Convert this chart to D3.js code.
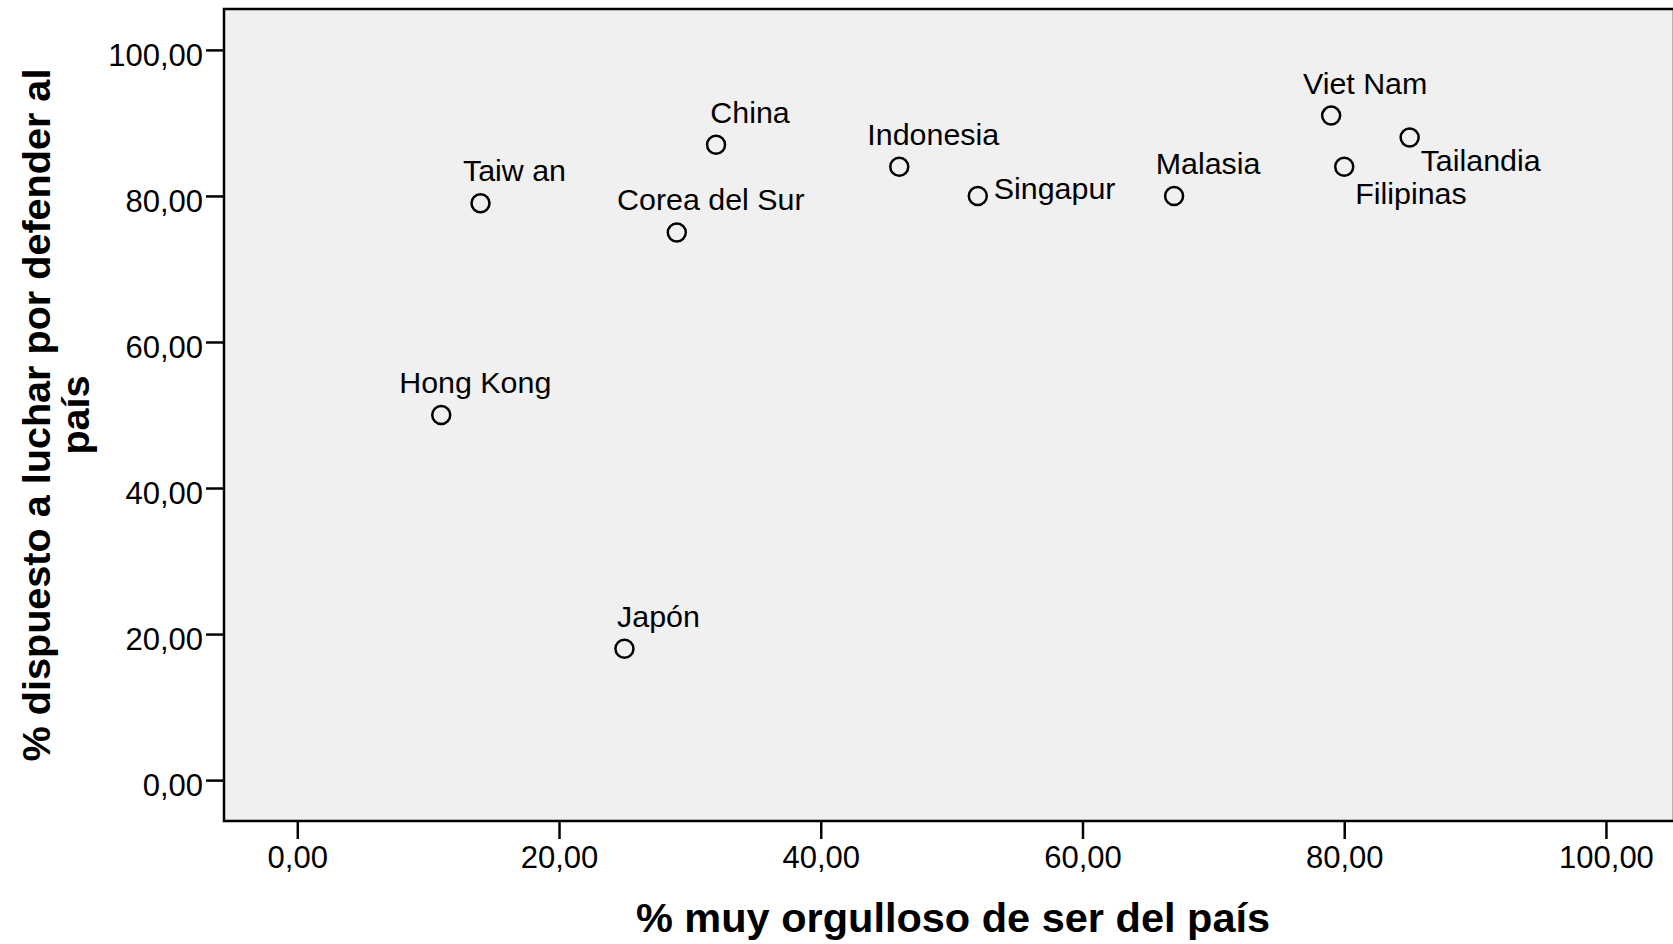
<!DOCTYPE html>
<html>
<head>
<meta charset="utf-8">
<script src="https://cdn.jsdelivr.net/npm/d3@7"></script>
<style>
  body { margin: 0; background: #fff; }
  svg { display: block; font-family: Arial, "Liberation Sans", sans-serif; }
</style>
</head>
<body>
<div id="viz"></div>
<script>
'use strict';

// countries and their two survey values
var countries = ['Hong Kong', 'Taiw an', 'Japón', 'Corea del Sur', 'China', 'Indonesia',
    'Singapur', 'Malasia', 'Viet Nam', 'Filipinas', 'Tailandia'];
var proud = [11, 14, 25, 29, 32, 46, 52, 67, 79, 80, 85];      // % muy orgulloso
var fight = [50, 79, 18, 75, 87, 84, 80, 80, 91, 84, 88];      // % dispuesto a luchar
var tickValues = [0, 20, 40, 60, 80, 100];

// where SPSS put the label next to each point
var labelSide = {
    'Singapur': 'right',
    'Filipinas': 'below',
    'Tailandia': 'below'
};

var W = 1673,
    H = 944;
var marginLeft = 224,
    marginTop = 9,
    plotW = 1450,
    plotH = 812;

var fmt = d3.formatLocale({decimal: ',', thousands: '.', grouping: [3], currency: ['', '']}).format('.2f');

var svg = d3.select('#viz').append('svg')
    .attr('width', W)
    .attr('height', H);

var x = d3.scaleLinear().domain([-5.6, 105.2]).range([0, plotW]);
var y = d3.scaleLinear().domain([-5.6, 105.6]).range([plotH, 0]);

var g = svg.append('g')
    .attr('transform', 'translate(' + marginLeft + ',' + marginTop + ')');

g.append('rect')
    .attr('width', plotW)
    .attr('height', plotH)
    .attr('fill', '#f0f0f0')
    .attr('stroke', '#000')
    .attr('stroke-width', 2.5);

var yAxis = g.append('g')
    .call(d3.axisLeft(y).tickValues(tickValues).tickFormat(fmt).tickSize(18).tickPadding(3));
var xAxis = g.append('g')
    .attr('transform', 'translate(0,' + plotH + ')')
    .call(d3.axisBottom(x).tickValues(tickValues).tickFormat(fmt).tickSize(18).tickPadding(7));

[xAxis, yAxis].forEach(function(a) {
    a.select('.domain').remove();
    a.selectAll('line').attr('stroke', '#000').attr('stroke-width', 2.5);
    a.selectAll('text')
        .attr('fill', '#000')
        .style('font-size', '31px')
        .style('font-family', 'Arial, "Liberation Sans", sans-serif');
});
yAxis.selectAll('text').attr('dy', '0.5em');

var data = countries.map(function(c, i) {
    return {name: c, x: proud[i], y: fight[i]};
});

var pt = g.append('g')
    .selectAll('g')
    .data(data)
    .enter().append('g')
    .attr('transform', d => 'translate(' + x(d.x) + ',' + y(d.y) + ')');

pt.append('circle')
    .attr('r', 9)
    .attr('fill', 'none')
    .attr('stroke', '#000')
    .attr('stroke-width', 2.5);

pt.append('text')
    .text(d => d.name)
    .style('font-size', '30.4px')
    .attr('fill', '#000')
    .attr('text-anchor', d => labelSide[d.name] ? 'start' : 'middle')
    .attr('x', function(d) {
        var s = labelSide[d.name];
        if (s === 'right') return 16;
        if (s === 'below') return 11;
        return 34;
    })
    .attr('y', function(d) {
        var s = labelSide[d.name];
        if (s === 'right') return 3;
        if (s === 'below') return d.name === 'Filipinas' ? 37 : 33;
        return -22;
    });

// axis titles
svg.append('text')
    .attr('x', 953)
    .attr('y', 932)
    .attr('text-anchor', 'middle')
    .style('font-size', '41.5px')
    .style('font-weight', 'bold')
    .text('% muy orgulloso de ser del país');

var yt = svg.append('text')
    .attr('transform', 'translate(0,' + (marginTop + plotH / 2) + ') rotate(-90)')
    .attr('text-anchor', 'middle')
    .style('font-size', '39.6px')
    .style('font-weight', 'bold');
yt.append('tspan').attr('x', 0).attr('y', 50).text('% dispuesto a luchar por defender al');
yt.append('tspan').attr('x', 0).attr('y', 89).text('país');
</script>
</body>
</html>
